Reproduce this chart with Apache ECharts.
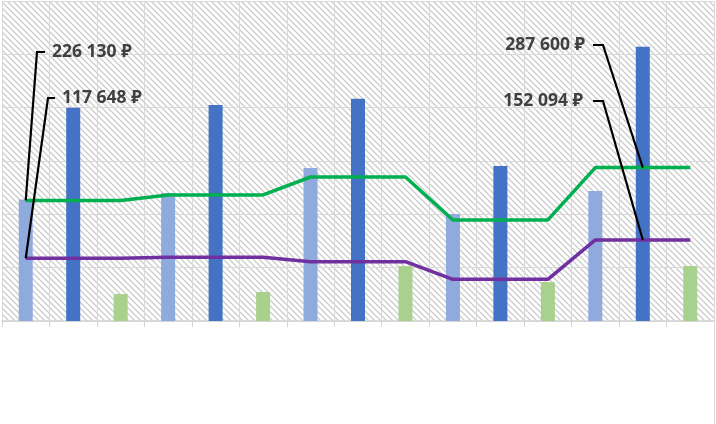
<!DOCTYPE html>
<html>
<head>
<meta charset="utf-8">
<script src="https://cdn.jsdelivr.net/npm/echarts@6/dist/echarts.min.js"></script>
<style>
  html, body { margin: 0; padding: 0; background: #fff; }
  #chart { width: 716px; height: 424px; }
</style>
</head>
<body>
<div id="chart"></div>
<script>
// categories (axis labels are not shown on the picture)
var categories = ["1", "2", "3", "4", "5", "6", "7", "8", "9", "10", "11", "12", "13", "14", "15"];

// bar series, one bar per category
var lightBlueBars = [228000, "-", "-", 240000, "-", "-", 287000, "-", "-", 200700, "-", "-", 243900, "-", "-"];
var darkBlueBars = ["-", 400000, "-", "-", 405000, "-", "-", 416500, "-", "-", 290800, "-", "-", 514000, "-"];
var greenBars = ["-", "-", 50600, "-", "-", 54400, "-", "-", 103000, "-", "-", 73000, "-", "-", 103000];

// line series
var greenLine = [226130, 226130, 226130, 236400, 236400, 236400, 270000, 270000, 270000, 189500, 189500, 189500, 287600, 287600, 287600];
var purpleLine = [117648, 117648, 117648, 119500, 119500, 119500, 111300, 111300, 111300, 78200, 78200, 78200, 152094, 152094, 152094];

// data labels shown with leader lines: [series index, data index, text]
var callouts = [
  [3, 0, "226 130 ₽"],
  [4, 0, "117 648 ₽"],
  [3, 13, "287 600 ₽"],
  [4, 13, "152 094 ₽"]
];

// hatched background pattern
function makeHatch() {
  var s = 6;
  var c = document.createElement("canvas");
  c.width = s;
  c.height = s;
  var ctx = c.getContext("2d");
  ctx.fillStyle = "#ffffff";
  ctx.fillRect(0, 0, s, s);
  ctx.strokeStyle = "#cccccc";
  ctx.lineWidth = 1.3;
  ctx.beginPath();
  ctx.moveTo(-1, -1); ctx.lineTo(s + 1, s + 1);
  ctx.moveTo(-1, s - 1); ctx.lineTo(1, s + 1);
  ctx.moveTo(s - 1, -1); ctx.lineTo(s + 1, 1);
  ctx.stroke();
  return c;
}

var chart = echarts.init(document.getElementById("chart"));

var option = {
  animation: false,
  backgroundColor: "#ffffff",
  grid: {
    left: 2,
    right: 2,
    top: 1,
    bottom: 103,
    show: true,
    borderWidth: 0,
    backgroundColor: { image: makeHatch(), repeat: "repeat" }
  },
  xAxis: {
    type: "category",
    data: categories,
    boundaryGap: true,
    axisLine: { lineStyle: { color: "#d4d4d4", width: 1.5 } },
    axisTick: { show: true, length: 6, lineStyle: { color: "#d4d4d4" } },
    axisLabel: { show: false },
    splitLine: { show: true, lineStyle: { color: "#d9d9d9", width: 1 } }
  },
  yAxis: {
    type: "value",
    min: 0,
    max: 600000,
    interval: 100000,
    axisLine: { show: false },
    axisTick: { show: false },
    axisLabel: { show: false },
    splitLine: { show: true, lineStyle: { color: "#d9d9d9", width: 1 } }
  },
  series: [
    {
      name: "light",
      type: "bar",
      data: lightBlueBars,
      barWidth: 14,
      barGap: "-100%",
      itemStyle: { color: "#8faadc" }
    },
    {
      name: "dark",
      type: "bar",
      data: darkBlueBars,
      barWidth: 14,
      barGap: "-100%",
      itemStyle: { color: "#4472c4" }
    },
    {
      name: "green",
      type: "bar",
      data: greenBars,
      barWidth: 14,
      barGap: "-100%",
      itemStyle: { color: "#a9d18e" }
    },
    {
      name: "greenLine",
      type: "line",
      data: greenLine,
      symbol: "none",
      lineStyle: { color: "#00b050", width: 3.5 },
      z: 3
    },
    {
      name: "purpleLine",
      type: "line",
      data: purpleLine,
      symbol: "none",
      lineStyle: { color: "#7030a0", width: 3.5 },
      z: 3
    }
  ]
};

option && chart.setOption(option);

// label placement (text anchor, stub end, stub start) in pixels
var labelBoxes = [
  { tx: 52, ty: 52, align: "left", stub: [[45, 52], [37, 52]] },
  { tx: 62, ty: 98, align: "left", stub: [[55, 98], [48, 98]] },
  { tx: 585, ty: 45, align: "right", stub: [[593, 45], [603, 45]] },
  { tx: 583, ty: 101, align: "right", stub: [[593, 101], [603, 101]] }
];

var graphics = [];
callouts.forEach(function (c, i) {
  var seriesData = c[0] === 3 ? greenLine : purpleLine;
  var p = chart.convertToPixel({ seriesIndex: c[0] }, [c[1], seriesData[c[1]]]);
  var box = labelBoxes[i];
  graphics.push({
    type: "polyline",
    z: 100,
    shape: { points: [box.stub[0], box.stub[1], p] },
    style: { stroke: "#000000", lineWidth: 2.2, fill: null }
  });
  graphics.push({
    type: "text",
    z: 100,
    x: box.tx,
    y: box.ty,
    style: {
      text: c[2],
      fill: "#404040",
      font: "bold 17.5px 'Noto Sans', 'DejaVu Sans', sans-serif",
      align: box.align,
      verticalAlign: "middle"
    }
  });
});
// right edge border of the chart area
graphics.push({
  type: "line",
  z: 100,
  shape: { x1: 714.5, y1: 321, x2: 714.5, y2: 424 },
  style: { stroke: "#d9d9d9", lineWidth: 1 }
});

chart.setOption({ graphic: graphics });
</script>
</body>
</html>
